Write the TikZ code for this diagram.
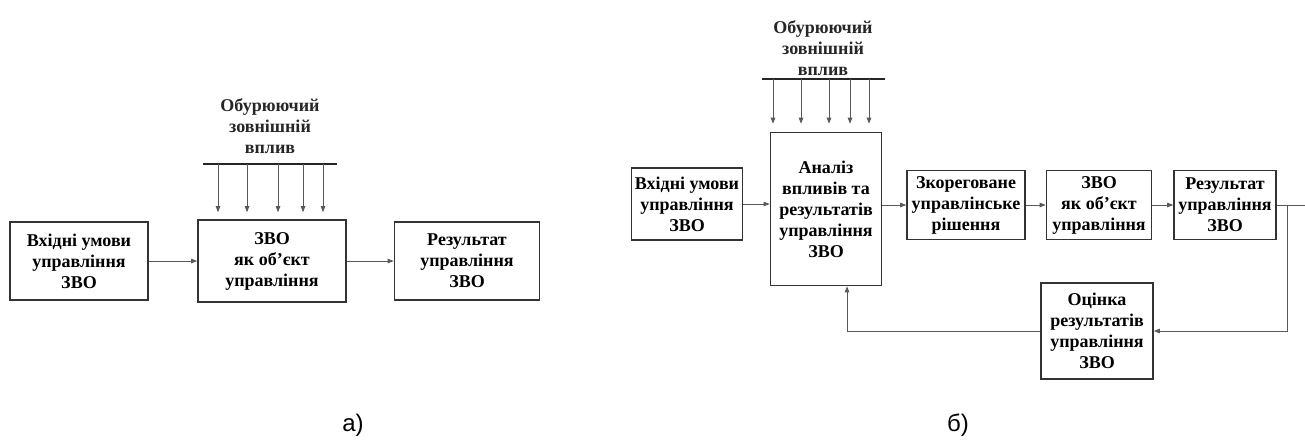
\documentclass[tikz,border=0pt]{standalone}
\usepackage{fontspec}
\setmainfont{Liberation Serif}
\newfontfamily\labelfont{Liberation Sans}
\usetikzlibrary{arrows.meta, calc}

\begin{document}
\begin{tikzpicture}[
      x=1pt, y=-1pt,
      font=\bfseries\fontsize{18}{21}\selectfont,
      box/.style={draw=black!80, line width=1.6pt, align=center, inner sep=0pt},
      arrow/.style={-{Triangle[length=6pt, width=4.5pt]}, line width=0.8pt, draw=black!65},
      line/.style={line width=0.8pt, draw=black!65},
      bar/.style={line width=2.2pt, draw=black!85},
      note/.style={align=center, text=black!85},
      caption/.style={font=\labelfont\fontsize{24}{28}\selectfont}
    ]
    \useasboundingbox (0,0) rectangle (1305,440);

    % a) open loop
    \node[box, minimum width=138, minimum height=78] (inA) at (79,261) {Вхідні умови\\управління\\ЗВО};
    \node[box, minimum width=148, minimum height=82] (zvoA) at (272,261) {ЗВО\\як об’єкт\\управління};
    \node[box, minimum width=145, minimum height=78] (resA) at (467,261) {Результат\\управління\\ЗВО};

    \node[note] (distA) at (270,126) {Обурюючий\\зовнішній\\вплив};
    \coordinate (barAl) at (203,164);
    \coordinate (barAr) at (337,164);
    \draw[bar] (barAl) -- (barAr);
    \foreach \dx in {15,44,75,100,120}
      \draw[arrow] ($(barAl)+(\dx,0)$) -- ($(barAl |- zvoA.north)+(\dx,-7)$);

    \draw[arrow] (inA) -- (zvoA);
    \draw[arrow] (zvoA) -- (resA);

    % b) closed loop
    \node[box, minimum width=111, minimum height=72] (inB) at (687,204) {Вхідні умови\\управління\\ЗВО};
    \node[box, minimum width=111, minimum height=153] (anB) at (826,209) {Аналіз\\впливів та\\результатів\\управління\\ЗВО};
    \node[box, minimum width=118, minimum height=69] (corrB) at (966,205) {Зкореговане\\управлінське\\рішення};
    \node[box, minimum width=105, minimum height=69] (zvoB) at (1099,205) {ЗВО\\як об’єкт\\управління};
    \node[box, minimum width=102, minimum height=69] (resB) at (1225,205) {Результат\\управління\\ЗВО};
    \node[box, minimum width=112, minimum height=96] (evalB) at (1097,331) {Оцінка\\результатів\\управління\\ЗВО};

    \node[note] (distB) at (823,48) {Обурюючий\\зовнішній\\вплив};
    \coordinate (barBl) at (762,79);
    \coordinate (barBr) at (885,79);
    \draw[bar] (barBl) -- (barBr);
    \foreach \dx in {11,39,67,88,107}
      \draw[arrow] ($(barBl)+(\dx,0)$) -- ($(barBl |- anB.north)+(\dx,-8)$);

    \draw[arrow] (inB.east) -- (inB.east -| anB.west);
    \draw[arrow] (corrB.west -| anB.east) -- (corrB.west);
    \draw[arrow] (corrB) -- (zvoB);
    \draw[arrow] (zvoB) -- (resB);

    \coordinate (tap) at ($(resB.east)+(11,0)$);
    \coordinate (tail) at ($(resB.east)+(29,0)$);
    \draw[line] (resB.east) -- (tail);
    \draw[arrow] (tap) |- (evalB.east);
    \draw[arrow] (evalB.west) -| ($(anB.south)+(21,0)$);

    \node[caption] (capA) at (353,425) {а)};
    \node[caption] (capB) at (958,425) {б)};

    \end{tikzpicture}
\end{document}
